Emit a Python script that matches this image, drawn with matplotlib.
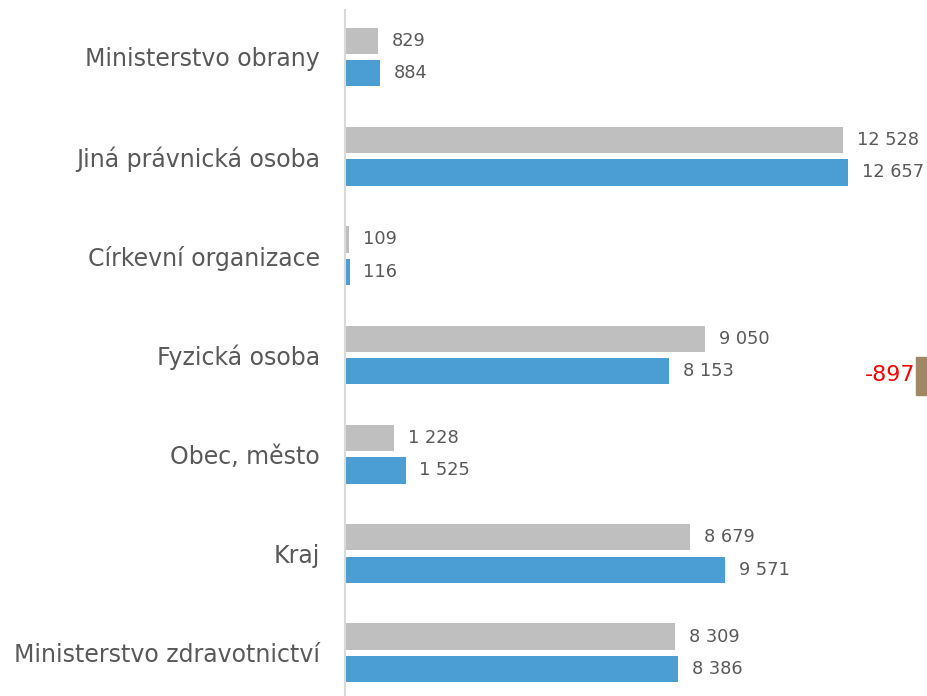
import matplotlib
matplotlib.use("Agg")
import matplotlib.pyplot as plt
from matplotlib.patches import Rectangle
import numpy as np

categories = ["Ministerstvo obrany", "Jiná právnická osoba", "Církevní organizace",
              "Fyzická osoba", "Obec, město", "Kraj", "Ministerstvo zdravotnictví"]
series_prev = [829, 12528, 109, 9050, 1228, 8679, 8309]
series_curr = [884, 12657, 116, 8153, 1525, 9571, 8386]
diff_label = "-897"

GRAY = "#BFBFBF"
BLUE = "#4A9ED3"
TXT = "#595959"

def fmt(v):
    return f"{v:,}".replace(",", " ")

fig = plt.figure(figsize=(9.27, 6.96), dpi=100)
ax = fig.add_axes([345/927, 0, 1 - 345/927, (696-10)/696])

y = np.arange(len(categories))
h = 0.265
off = 0.163
ax.barh(y - off, series_prev, height=h, color=GRAY)
ax.barh(y + off, series_curr, height=h, color=BLUE)

for yy, v in zip(y - off, series_prev):
    ax.annotate(fmt(v), (v, yy), xytext=(10, 0), textcoords="offset points",
                va="center", ha="left", fontsize=12.8, color=TXT)
for yy, v in zip(y + off, series_curr):
    ax.annotate(fmt(v), (v, yy), xytext=(10, 0), textcoords="offset points",
                va="center", ha="left", fontsize=12.8, color=TXT)

ax.set_xlim(0, (927-345)/(503/12657))
ax.set_ylim(6 + 0.435, -0.473)
ax.set_yticks(y)
ax.set_yticklabels(categories, fontsize=17, color=TXT)
ax.tick_params(axis="y", length=0, pad=18)
ax.set_xticks([])
for s in ["top", "right", "bottom"]:
    ax.spines[s].set_visible(False)
ax.spines["left"].set_color("#D9D9D9")
ax.spines["left"].set_linewidth(1.5)

# side annotation (partially visible difference marker)
fig.text(915/927, 1 - 375/696, diff_label, color="red", fontsize=16,
         ha="right", va="center")
fig.patches.append(Rectangle((916/927, 1 - 395/696), 12/927, 38/696,
                             transform=fig.transFigure, color="#A08866"))

fig.savefig("out.png", dpi=100)
